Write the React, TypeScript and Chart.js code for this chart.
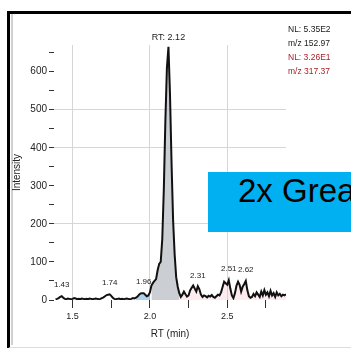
import { useEffect, useRef } from 'react';
import { Chart, registerables } from 'chart.js';

Chart.register(...registerables);

const FONT = '"Liberation Sans", Arial, sans-serif';

// Retention time (min)
const retentionTimes = [
  1.39, 1.40, 1.41, 1.42, 1.43, 1.44, 1.45, 1.46, 1.47, 1.48,
  1.49, 1.50, 1.51, 1.52, 1.53, 1.54, 1.55, 1.56, 1.57, 1.58,
  1.59, 1.60, 1.61, 1.62, 1.63, 1.64, 1.65, 1.66, 1.67, 1.68,
  1.69, 1.70, 1.71, 1.72, 1.73, 1.74, 1.75, 1.76, 1.77, 1.78,
  1.79, 1.80, 1.81, 1.82, 1.83, 1.84, 1.85, 1.86, 1.87, 1.88,
  1.89, 1.90, 1.91, 1.92, 1.93, 1.94, 1.95, 1.96, 1.97, 1.98,
  1.99, 2.00, 2.01, 2.02, 2.03, 2.04, 2.05, 2.06, 2.07, 2.08,
  2.09, 2.10, 2.11, 2.12, 2.13, 2.14, 2.15, 2.16, 2.17, 2.18,
  2.19, 2.20, 2.21, 2.22, 2.23, 2.24, 2.25, 2.26, 2.27, 2.28,
  2.29, 2.30, 2.31, 2.32, 2.33, 2.34, 2.35, 2.36, 2.37, 2.38,
  2.39, 2.40, 2.41, 2.42, 2.43, 2.44, 2.45, 2.46, 2.47, 2.48,
  2.49, 2.50, 2.51, 2.52, 2.53, 2.54, 2.55, 2.56, 2.57, 2.58,
  2.59, 2.60, 2.61, 2.62, 2.63, 2.64, 2.65, 2.66, 2.67, 2.68,
  2.69, 2.70, 2.71, 2.72, 2.73, 2.74, 2.75, 2.76, 2.77, 2.78,
  2.79, 2.80, 2.81, 2.82, 2.83, 2.84, 2.85, 2.86, 2.87, 2.88,
];

// Intensity
const intensities = [
  2, 3, 5, 8, 10, 6, 3, 2, 4, 3,
  2, 3, 5, 4, 2, 3, 2, 4, 3, 2,
  3, 2, 4, 3, 2, 3, 4, 3, 2, 3,
  5, 7, 10, 13, 14, 15, 11, 6, 3, 2,
  3, 4, 2, 3, 2, 3, 4, 3, 2, 3,
  5, 4, 6, 9, 14, 17, 18, 18, 14, 10,
  12, 20, 38, 45, 50, 55, 78, 95, 100, 160,
  290, 470, 610, 665, 540, 360, 210, 120, 60, 35,
  18, 8, 14, 22, 15, 9, 12, 25, 32, 38,
  30, 22, 36, 28, 14, 8, 12, 10, 7, 11,
  9, 13, 8, 6, 10, 14, 12, 20, 34, 48,
  44, 40, 52, 30, 12, 5, 18, 38, 48, 40,
  22, 35, 42, 50, 26, 10, 6, 8, 16, 10,
  20, 14, 8, 22, 12, 26, 14, 20, 10, 24,
  12, 18, 8, 20, 12, 16, 10, 14, 12, 15,
];

const apexRt = 2.12;
const apexLabel = 'RT: 2.12';
const peakRts = [1.43, 1.74, 1.96, 2.31, 2.51, 2.62];
const peakLabels = ['1.43', '1.74', '1.96', '2.31', '2.51', '2.62'];

const mainAreaRange = [2.01, 2.19];
const blueAreaRange = [1.91, 2.0];
const pinkAreaRange = [2.19, 2.88];

const xTickValues = [1.5, 1.75, 2.0, 2.25, 2.5, 2.75];
const xLabelledTicks = [1.5, 2.0, 2.5];
const yTickValues = [0, 50, 100, 150, 200, 250, 300, 350, 400, 450, 500, 550, 600, 650];
const yGridShown = [200, 400, 500];

const legendLines = [
  { text: 'NL: 5.35E2', color: '#1a1a1a' },
  { text: 'm/z 152.97', color: '#1a1a1a' },
  { text: 'NL: 3.26E1', color: '#a8202a' },
  { text: 'm/z 317.37', color: '#a8202a' },
];

const inRange = (range: number[]) =>
  retentionTimes.map((t, i) => ({ x: t, y: t >= range[0] - 1e-9 && t <= range[1] + 1e-9 ? intensities[i] : null }));

const near = (a: number, b: number) => Math.abs(a - b) < 1e-6;

const labelPlugin = {
  id: 'peakLabels',
  afterDatasetsDraw(chart: any) {
    const { ctx, scales } = chart;
    const x = scales.x;
    const y = scales.y;
    ctx.save();
    ctx.textAlign = 'center';
    ctx.textBaseline = 'middle';
    ctx.fillStyle = '#222';
    ctx.font = `8px ${FONT}`;
    peakRts.forEach((rt, i) => {
      const idx = retentionTimes.findIndex((t) => near(t, rt));
      const val = intensities[idx];
      ctx.fillText(peakLabels[i], x.getPixelForValue(rt), y.getPixelForValue(val) - 11);
    });
    const ai = retentionTimes.findIndex((t) => near(t, apexRt));
    ctx.font = `9px ${FONT}`;
    ctx.fillText(apexLabel, x.getPixelForValue(apexRt), y.getPixelForValue(intensities[ai]) - 9);
    ctx.restore();
  },
};

export default function App() {
  const ref = useRef<HTMLCanvasElement>(null);

  useEffect(() => {
    if (!ref.current) return;
    const chart = new Chart(ref.current, {
      type: 'line',
      data: {
        datasets: [
          {
            label: 'trace',
            data: retentionTimes.map((t, i) => ({ x: t, y: intensities[i] })),
            borderColor: '#111',
            borderWidth: 2,
            pointRadius: 0,
            tension: 0,
            fill: false,
          },
          {
            label: 'area',
            data: inRange(mainAreaRange),
            borderWidth: 0,
            borderColor: 'rgba(0,0,0,0)',
            backgroundColor: 'rgba(185,190,195,0.75)',
            pointRadius: 0,
            fill: 'origin',
            spanGaps: false,
          },
          {
            label: 'blue',
            data: inRange(blueAreaRange),
            borderWidth: 0,
            borderColor: 'rgba(0,0,0,0)',
            backgroundColor: 'rgba(110,170,215,0.55)',
            pointRadius: 0,
            fill: 'origin',
            spanGaps: false,
          },
          {
            label: 'pink',
            data: inRange(pinkAreaRange),
            borderWidth: 0,
            borderColor: 'rgba(0,0,0,0)',
            backgroundColor: 'rgba(240,170,185,0.22)',
            pointRadius: 0,
            fill: 'origin',
            spanGaps: false,
          },
        ],
      },
      options: {
        responsive: false,
        animation: false,
        layout: { padding: { left: 0, top: 45, right: 65, bottom: 6 } },
        plugins: { legend: { display: false }, tooltip: { enabled: false } },
        scales: {
          x: {
            type: 'linear',
            min: 1.38,
            max: 2.88,
            afterBuildTicks: (s: any) => {
              s.ticks = xTickValues.map((v) => ({ value: v }));
            },
            afterFit: (s: any) => {
              s.height = 42;
            },
            ticks: {
              autoSkip: false,
              maxRotation: 0,
              padding: 3,
              color: '#222',
              font: { size: 9, family: FONT },
              callback: (v: any) => (xLabelledTicks.some((t) => near(t, Number(v))) ? Number(v).toFixed(1) : ''),
            },
            grid: {
              color: (c: any) =>
                c.tick && xLabelledTicks.some((t) => near(t, c.tick.value)) ? '#d6d6d6' : 'rgba(0,0,0,0)',
              tickColor: '#333',
              tickLength: 8,
            },
            border: { display: false },
            title: {
              display: true,
              text: 'RT (min)',
              color: '#222',
              font: { size: 10, family: FONT },
              padding: { top: 0, bottom: 2 },
            },
          },
          y: {
            type: 'linear',
            min: 0,
            max: 670,
            afterBuildTicks: (s: any) => {
              s.ticks = yTickValues.map((v) => ({ value: v }));
            },
            afterFit: (s: any) => {
              s.width = 54;
            },
            ticks: {
              autoSkip: false,
              padding: 2,
              color: '#222',
              font: { size: 10, family: FONT },
              callback: (v: any) => (Number(v) % 100 === 0 ? String(v) : ''),
            },
            grid: {
              color: (c: any) => (c.tick && yGridShown.includes(c.tick.value) ? '#d6d6d6' : 'rgba(0,0,0,0)'),
              tickColor: '#333',
              tickLength: 5,
            },
            border: { display: false },
            title: {
              display: true,
              text: 'Intensity',
              color: '#222',
              font: { size: 10, family: FONT },
              padding: { top: 11, bottom: 0 },
            },
          },
        },
      },
      plugins: [labelPlugin],
    } as any);
    return () => chart.destroy();
  }, []);

  return (
    <div
      style={{
        position: 'fixed',
        left: 0,
        top: 0,
        width: 351,
        height: 348,
        overflow: 'hidden',
        background: '#fff',
        fontFamily: FONT,
      }}
    >
      <div
        style={{
          position: 'absolute',
          left: 7,
          top: 11,
          width: 400,
          height: 333,
          borderTop: '3px solid #000',
          borderLeft: '3px solid #000',
          borderBottom: '2px solid #dcdcdc',
        }}
      />
      <div style={{ position: 'absolute', left: 11, top: 14, width: 2, height: 331, background: '#d0d0d0' }} />
      <canvas
        ref={ref}
        width={351}
        height={348}
        style={{ position: 'absolute', left: 0, top: 0, width: 351, height: 348 }}
      />
      <div style={{ position: 'absolute', left: 288, top: 22, fontSize: 8.5, lineHeight: '14px' }}>
        {legendLines.map((l, i) => (
          <div key={i} style={{ color: l.color, whiteSpace: 'nowrap' }}>
            {l.text}
          </div>
        ))}
      </div>
      <div
        style={{
          position: 'absolute',
          left: 208,
          top: 172,
          width: 200,
          height: 60,
          background: '#00B0F0',
        }}
      />
      <div
        style={{
          position: 'absolute',
          left: 238,
          top: 174,
          fontSize: 33,
          lineHeight: '33px',
          color: '#000',
          whiteSpace: 'nowrap',
        }}
      >
        2x Greater
      </div>
    </div>
  );
}
